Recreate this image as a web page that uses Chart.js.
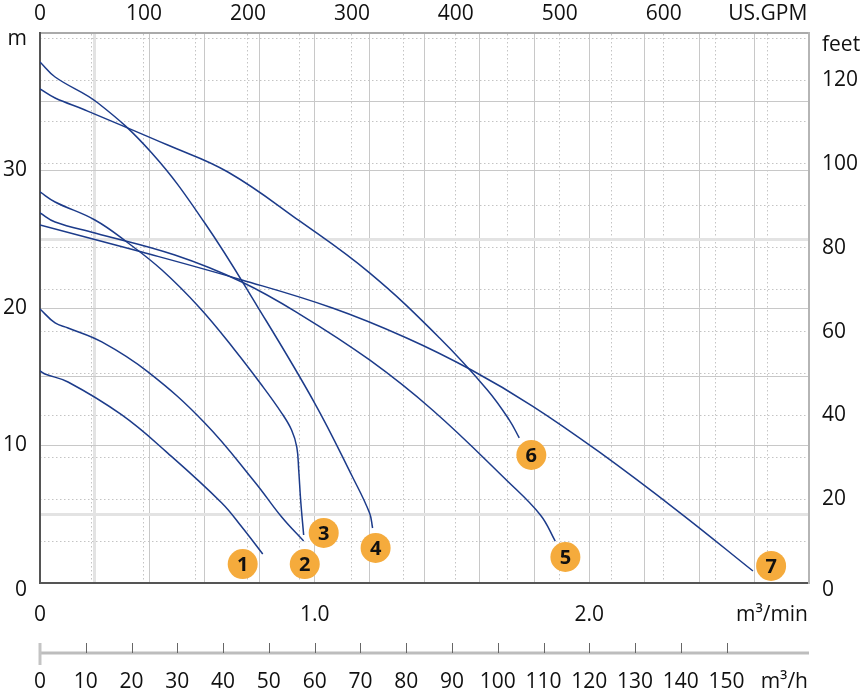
<!DOCTYPE html>
<html><head><meta charset="utf-8">
<script src="https://cdn.jsdelivr.net/npm/chart.js@4.4.1/dist/chart.umd.min.js"></script>
<style>html,body{margin:0;padding:0;background:#fff;}canvas{display:block;}</style>
</head><body>
<canvas id="c" width="866" height="696"></canvas>
<script>
// ---- data (flow in m³/min, head in m) ----
const pump1Flow = [0, 0.018, 0.102, 0.298, 0.465, 0.662, 0.735, 0.811];
const pump1Head = [15.42, 15.2, 14.62, 12.22, 9.45, 5.82, 4.07, 2.11];

const pump2Flow = [0, 0.055, 0.102, 0.225, 0.393, 0.60, 0.782, 0.88, 0.96];
const pump2Head = [19.93, 18.91, 18.55, 17.53, 15.35, 11.64, 7.35, 4.8, 3.05];

const pump3Flow = [0, 0.055, 0.20, 0.316, 0.444, 0.582, 0.709, 0.807, 0.88, 0.916, 0.935, 0.942, 0.949, 0.96];
const pump3Head = [28.44, 27.71, 26.4, 24.8, 22.76, 20.0, 16.95, 14.4, 12.36, 11.13, 9.89, 8.22, 6.04, 3.49];

const pump4Flow = [0, 0.055, 0.211, 0.407, 0.60, 0.793, 1.0, 1.138, 1.20, 1.211];
const pump4Head = [37.89, 36.8, 34.91, 31.27, 26.18, 20.07, 13.09, 7.71, 5.09, 4.0];

const pump5Flow = [0, 0.055, 0.20, 0.491, 0.735, 0.945, 1.20, 1.429, 1.698, 1.822, 1.876];
const pump5Head = [26.91, 26.25, 25.45, 23.85, 21.89, 19.56, 16.22, 12.58, 7.49, 4.95, 3.05];

const pump6Flow = [0, 0.055, 0.164, 0.465, 0.684, 0.945, 1.20, 1.455, 1.629, 1.709, 1.745];
const pump6Head = [35.93, 35.27, 34.4, 31.85, 29.89, 26.33, 22.55, 17.82, 14.04, 11.85, 10.55];

const pump7Flow = [0, 0.371, 0.735, 1.065, 1.335, 1.571, 1.793, 2.036, 2.327, 2.596];
const pump7Head = [26.04, 24.07, 22.04, 20.0, 17.82, 15.49, 12.87, 9.53, 5.16, 0.87];

const badgeLabels = ['1', '2', '3', '4', '5', '6', '7'];
const badgeFlow = [0.738, 0.964, 1.033, 1.222, 1.913, 1.789, 2.662];
const badgeHead = [1.38, 1.38, 3.64, 2.55, 1.89, 9.31, 1.24];

// ---- axes ----
const flowTicks = [0, 0.2, 0.4, 0.6, 0.8, 1.0, 1.2, 1.4, 1.6, 1.8, 2.0, 2.2, 2.4, 2.6, 2.8];
const flowLabels = {0: '0', 1: '1.0', 2: '2.0'};
const gpmTicks = [0, 50, 100, 150, 200, 250, 300, 350, 400, 450, 500, 550, 600, 650, 700];
const gpmLabels = {0: '0', 100: '100', 200: '200', 300: '300', 400: '400', 500: '500', 600: '600', 700: 'US.GPM'};
const headTicks = [0, 5, 10, 15, 20, 25, 30, 35, 40];
const headLabels = {10: '10', 20: '20', 30: '30'};
const feetTicks = [0, 10, 20, 30, 40, 50, 60, 70, 80, 90, 100, 110, 120, 130];
const feetLabels = {20: '20', 40: '40', 60: '60', 80: '80', 100: '100', 120: '120'};
const perHourTicks = [0, 10, 20, 30, 40, 50, 60, 70, 80, 90, 100, 110, 120, 130, 140, 150];

const FLOW_MAX = 2.8, HEAD_MAX = 40;
const GPM_PER_M3MIN = 264.172, FT_PER_M = 3.28084;

const FONT = '"Open Sans", "Noto Sans", sans-serif';
Chart.defaults.font.family = FONT;
Chart.defaults.font.size = 21;
Chart.defaults.color = '#111';

const lineColor = '#1c3b8a';
const pumps = [
  [pump1Flow, pump1Head], [pump2Flow, pump2Head], [pump3Flow, pump3Head], [pump4Flow, pump4Head],
  [pump5Flow, pump5Head], [pump6Flow, pump6Head], [pump7Flow, pump7Head]
];
const datasets = pumps.map(([f, h], k) => ({
  label: 'Pump ' + (k + 1),
  data: f.map((q, i) => ({x: q, y: h[i]})),
  borderColor: lineColor, borderWidth: 1.5, pointRadius: 0, fill: false,
  tension: 0.4, xAxisID: 'x', yAxisID: 'y'
}));
datasets.push({
  label: 'badges',
  data: badgeFlow.map((q, i) => ({x: q, y: badgeHead[i]})),
  showLine: false, pointRadius: 15, pointHoverRadius: 15,
  pointBackgroundColor: '#f5ab3c', pointBorderWidth: 0, clip: false,
  xAxisID: 'x', yAxisID: 'y'
});

const setTicks = arr => s => { s.ticks = arr.map(v => ({value: v})); };
const key = v => Math.round(v * 1000) / 1000;
const solid = '#c8c8c8', light = '#e3e3e3', dotted = '#c4c4c4';

const labelsPlugin = {
  id: 'extras',
  afterDatasetsDraw(chart) {
    const ctx = chart.ctx;
    const meta = chart.getDatasetMeta(chart.data.datasets.length - 1);
    ctx.save();
    ctx.font = 'bold 20px ' + FONT;
    ctx.fillStyle = '#111';
    ctx.textAlign = 'center';
    ctx.textBaseline = 'middle';
    meta.data.forEach((pt, i) => ctx.fillText(badgeLabels[i], pt.x, pt.y + 1));
    ctx.restore();
  },
  afterDraw(chart) {
    const ctx = chart.ctx, a = chart.chartArea, xs = chart.scales.x;
    ctx.save();
    ctx.font = '21px ' + FONT;
    ctx.fillStyle = '#111';
    ctx.textBaseline = 'middle';
    ctx.textAlign = 'right';
    ctx.fillText('m', a.left - 13, a.top + 6);
    ctx.fillText('0', a.left - 13, a.bottom + 7);
    ctx.fillText('m³/min', a.right - 1, a.bottom + 32);
    ctx.textAlign = 'left';
    ctx.fillText('feet', a.right + 13, a.top + 12);
    ctx.fillText('0', a.right + 13, a.bottom + 7);
    // m³/h axis
    const yAx = a.bottom + 70;
    ctx.strokeStyle = '#bdbdbd';
    ctx.lineWidth = 3;
    ctx.beginPath(); ctx.moveTo(a.left, yAx); ctx.lineTo(a.right, yAx); ctx.stroke();
    perHourTicks.forEach(v => {
      const px = Math.round(xs.getPixelForValue(v / 60)) + 0.5;
      ctx.beginPath();
      if (v === 0) {
        ctx.strokeStyle = '#c4c4c4'; ctx.lineWidth = 3;
        ctx.moveTo(px - 0.5, yAx - 10); ctx.lineTo(px - 0.5, yAx + 12);
      } else {
        ctx.strokeStyle = '#666'; ctx.lineWidth = 1;
        ctx.moveTo(px, yAx - 10); ctx.lineTo(px, yAx);
      }
      ctx.stroke();
      ctx.textAlign = 'center';
      ctx.fillText(String(v), xs.getPixelForValue(v / 60), yAx + 29);
    });
    ctx.textAlign = 'right';
    ctx.fillText('m³/h', a.right - 1, yAx + 29);
    ctx.restore();
  }
};

new Chart(document.getElementById('c'), {
  type: 'line',
  data: {datasets},
  options: {
    responsive: false, animation: false, events: [],
    layout: {padding: 0},
    plugins: {legend: {display: false}, tooltip: {enabled: false}},
    scales: {
      x: {
        type: 'linear', position: 'bottom', min: 0, max: FLOW_MAX,
        afterBuildTicks: setTicks(flowTicks),
        afterFit: s => { s.height = 113; },
        ticks: {autoSkip: false, maxRotation: 0, minRotation: 0, padding: 19,
          callback: v => flowLabels[key(v)] || ''},
        grid: {drawTicks: false,
          color: c => key(c.tick.value) === 0.2 ? light : solid,
          lineWidth: c => key(c.tick.value) === 0.2 ? 3 : 1},
        border: {display: true, color: '#555', width: 2}
      },
      x2: {
        type: 'linear', position: 'top', min: 0, max: FLOW_MAX * GPM_PER_M3MIN,
        afterBuildTicks: setTicks(gpmTicks),
        afterFit: s => { s.height = 33; },
        ticks: {autoSkip: false, maxRotation: 0, minRotation: 0, padding: 6,
          callback: v => gpmLabels[key(v)] || ''},
        grid: {drawTicks: false, color: dotted, lineWidth: 1},
        border: {display: true, color: '#aaa', width: 2, dash: [1.5, 2.5]}
      },
      y: {
        type: 'linear', position: 'left', min: 0, max: HEAD_MAX,
        afterBuildTicks: setTicks(headTicks),
        afterFit: s => { s.width = 40; },
        ticks: {autoSkip: false, padding: 13, callback: v => headLabels[key(v)] || ''},
        grid: {drawTicks: false,
          color: c => (key(c.tick.value) === 5 || key(c.tick.value) === 25) ? light : solid,
          lineWidth: c => (key(c.tick.value) === 5 || key(c.tick.value) === 25) ? 3 : 1},
        border: {display: true, color: '#555', width: 2}
      },
      y2: {
        type: 'linear', position: 'right', min: 0, max: HEAD_MAX * FT_PER_M,
        afterBuildTicks: setTicks(feetTicks),
        afterFit: s => { s.width = 57; },
        ticks: {autoSkip: false, padding: 13, callback: v => feetLabels[key(v)] || ''},
        grid: {drawTicks: false, color: dotted, lineWidth: 1},
        border: {display: true, color: '#b5b5b5', width: 2, dash: [1.5, 2.5]}
      }
    }
  },
  plugins: [labelsPlugin]
});
</script>
</body></html>
